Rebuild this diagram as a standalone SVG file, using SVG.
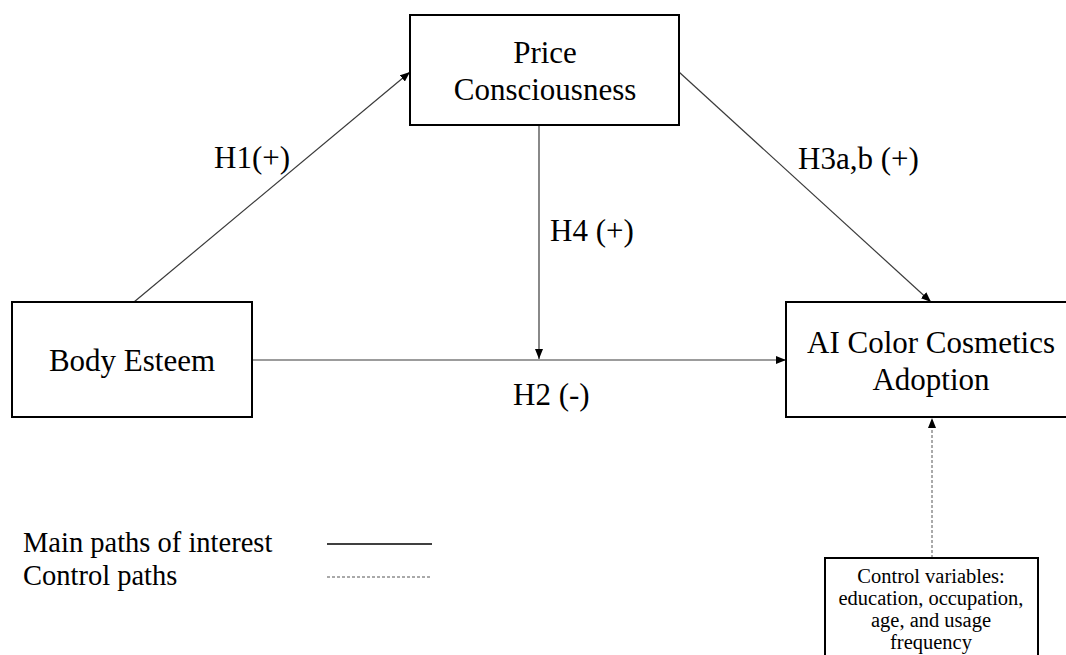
<svg xmlns="http://www.w3.org/2000/svg" width="1066" height="655" viewBox="0 0 1066 655">
<style>
.box{fill:#fff;stroke:#000;stroke-width:2}
text{font-family:'Liberation Serif','Times New Roman',serif;fill:#000}
.big{font-size:31px}
.leg{font-size:28.5px}
.small{font-size:20.5px}
.c{stroke:#3a3a3a;stroke-width:1.2;fill:none}
.d{stroke:#555;stroke-width:1;stroke-dasharray:3,2;fill:none}
</style>
<defs>
<marker id="ah" markerWidth="10" markerHeight="8" refX="10" refY="4" orient="auto" markerUnits="userSpaceOnUse">
<path d="M0,0 L10,4 L0,8 Z" fill="#000"/>
</marker>
</defs>
<g id="connectors">
<line class="c" x1="134" y1="302" x2="410" y2="72" marker-end="url(#ah)"/>
<line class="c" x1="679" y1="72" x2="931" y2="302" marker-end="url(#ah)"/>
<line class="c" x1="539" y1="125" x2="539" y2="359" marker-end="url(#ah)"/>
<line class="c" x1="252" y1="360" x2="786" y2="360" marker-end="url(#ah)"/>
<line class="d" x1="932" y1="558" x2="932" y2="418" marker-end="url(#ah)"/>
</g>
<g id="node-price">
<rect class="box" x="410" y="15" width="269" height="110"/>
<text class="big" x="545" y="63" text-anchor="middle">Price</text>
<text class="big" x="545" y="100" text-anchor="middle">Consciousness</text>
</g>
<g id="node-body">
<rect class="box" x="12" y="302" width="240" height="115"/>
<text class="big" x="132" y="371" text-anchor="middle">Body Esteem</text>
</g>
<g id="node-ai">
<rect class="box" x="786" y="302" width="292" height="115"/>
<text class="big" x="931" y="353" text-anchor="middle">AI Color Cosmetics</text>
<text class="big" x="931" y="390" text-anchor="middle">Adoption</text>
</g>
<g id="node-control">
<rect class="box" x="825" y="558" width="213" height="110"/>
<text class="small" x="931" y="583" text-anchor="middle">Control variables:</text>
<text class="small" x="931" y="605" text-anchor="middle">education, occupation,</text>
<text class="small" x="931" y="627" text-anchor="middle">age, and usage</text>
<text class="small" x="931" y="649" text-anchor="middle">frequency</text>
</g>
<g id="labels">
<text class="big" x="214" y="168">H1(+)</text>
<text class="big" x="798" y="169">H3a,b (+)</text>
<text class="big" x="550" y="241">H4 (+)</text>
<text class="big" x="513" y="405">H2 (-)</text>
</g>
<g id="legend">
<text class="leg" x="23" y="552">Main paths of interest</text>
<text class="leg" x="23" y="585">Control paths</text>
<line x1="327" y1="544" x2="432" y2="544" stroke="#000" stroke-width="1.5"/>
<line x1="327" y1="577" x2="432" y2="577" stroke="#555" stroke-width="1" stroke-dasharray="3,2"/>
</g>
</svg>
